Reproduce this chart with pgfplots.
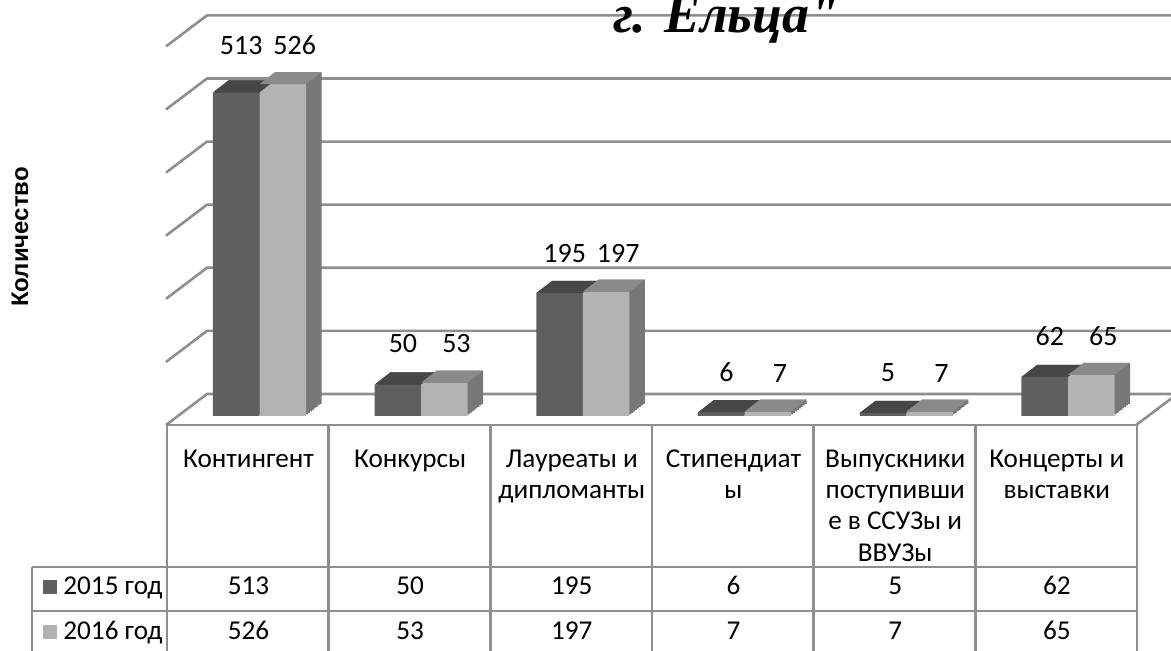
\documentclass[border=0pt]{standalone}
\usepackage{pgfplots}
\usepackage{pgfplotstable}
\pgfplotsset{compat=1.18}
\usepackage{fontspec}
\setmainfont{Carlito}
\newfontfamily\titlefont{Liberation Serif}
\newfontfamily\ylabfont{Liberation Sans}

\definecolor{fr15}{HTML}{5F5F5F}
\definecolor{tp15}{HTML}{474747}
\definecolor{sd15}{HTML}{3E3E3E}
\definecolor{fr16}{HTML}{B3B3B3}
\definecolor{tp16}{HTML}{8A8A8A}
\definecolor{sd16}{HTML}{777777}
\definecolor{gridc}{HTML}{8E8E8E}

\pgfdeclareplotmark{topface}{%
  \pgfpathmoveto{\pgfpoint{-11.625pt}{0pt}}%
  \pgfpathlineto{\pgfpoint{11.625pt}{0pt}}%
  \pgfpathlineto{\pgfpoint{19.375pt}{6pt}}%
  \pgfpathlineto{\pgfpoint{-3.875pt}{6pt}}%
  \pgfpathclose\pgfusepath{fill}}

\pgfplotstableread{
cat v15 v16
0 513 526
1 50 53
2 195 197
3 6 7
4 5 7
5 62 65
}\data

\begin{document}
\begin{tikzpicture}
\path[use as bounding box] (0,0) rectangle (585.5pt,325.5pt);
\begin{axis}[
  hide axis, clip=false, scale only axis,
  width=485.1pt, height=189.3pt,
  at={(89.325pt,117.5pt)}, anchor=south west,
  xmin=-0.5, xmax=5.5, ymin=0, ymax=600,
  /pgf/number format/assume math mode=true,
]
% back wall gridlines
\pgfplotsinvokeforeach{0,100,...,600}{
  \draw[gridc, line width=1.3pt, line join=round] ([shift={(-6.325pt,-4.5pt)}]axis cs:-0.5,#1) -- ([shift={(14.175pt,11pt)}]axis cs:-0.5,#1) -- ([shift={(20pt,11pt)}]axis cs:5.5,#1);
}
\draw[gridc, line width=1.3pt] ([shift={(-6.325pt,-4.5pt)}]axis cs:5.5,0) -- ([shift={(14.175pt,11pt)}]axis cs:5.5,0);

% 2015 series
\pgfplotsinvokeforeach{1,...,8}{
  \addplot[ybar, bar shift=0pt, bar width=0.2876, draw=none, fill=sd15, xshift=#1*0.96875pt, yshift=#1*0.75pt]
    table[x expr=\thisrow{cat}-0.1438, y=v15]{\data};
}
\addplot[ybar, bar shift=0pt, bar width=0.2876, draw=none, fill=fr15]
  table[x expr=\thisrow{cat}-0.1438, y=v15]{\data};
\addplot[only marks, mark=topface, mark options={fill=tp15, draw=none}]
  table[x expr=\thisrow{cat}-0.1438, y=v15]{\data};

% 2016 series
\pgfplotsinvokeforeach{1,...,8}{
  \addplot[ybar, bar shift=0pt, bar width=0.2876, draw=none, fill=sd16, xshift=#1*0.96875pt, yshift=#1*0.75pt]
    table[x expr=\thisrow{cat}+0.1438, y=v16]{\data};
}
\addplot[ybar, bar shift=0pt, bar width=0.2876, draw=none, fill=fr16]
  table[x expr=\thisrow{cat}+0.1438, y=v16]{\data};
\addplot[only marks, mark=topface, mark options={fill=tp16, draw=none}]
  table[x expr=\thisrow{cat}+0.1438, y=v16]{\data};

% data labels
\addplot[draw=none, mark=none, nodes near coords, point meta=\thisrow{v15},
  every node near coord/.append style={anchor=south, inner sep=0pt, yshift=14.5pt, xshift=2.5pt, text=black, font=\fontsize{14}{16}\selectfont}]
  table[x expr=\thisrow{cat}-0.1438, y=v16]{\data};
\addplot[draw=none, mark=none, nodes near coords, point meta=\thisrow{v16},
  every node near coord/.append style={anchor=south, inner sep=0pt, yshift=14.5pt, xshift=6pt, text=black, font=\fontsize{14}{16}\selectfont}]
  table[x expr=\thisrow{cat}+0.1438, y=v16]{\data};
\end{axis}

\begin{scope}[shift={(0pt,325.5pt)}, x=0.5pt, y=-0.5pt]
  % table lines
  \begin{scope}[gridc, line width=1.3pt]
    \draw (167,425) -- (1137,425);
    \foreach \i in {0,...,6} \draw ({167+161.67*\i},425) -- ({167+161.67*\i},660);
    \draw (32,567) -- (1137,567);
    \draw (32,611) -- (1137,611);
    \draw (32,655) -- (1137,655);
    \draw (32,567) -- (32,660);
  \end{scope}
  \begin{scope}[every node/.style={inner sep=0pt, anchor=base, font=\fontsize{13.6}{15}\selectfont}]
    % header
    \node at (248.5,468) {Контингент};
    \node at (410.2,468) {Конкурсы};
    \node at (571.8,468) {Лауреаты и};
    \node at (571.8,499) {дипломанты};
    \node at (733.5,468) {Стипендиат};
    \node at (733.5,499) {ы};
    \node at (895.2,468) {Выпускники};
    \node at (895.2,499) {поступивши};
    \node at (895.2,530) {е в ССУЗы и};
    \node at (895.2,562) {ВВУЗы};
    \node at (1056.8,468) {Концерты и};
    \node at (1056.8,499) {выставки};
    % rows
    \node at (248.5,595) {513}; \node at (410.2,595) {50}; \node at (571.8,595) {195};
    \node at (733.5,595) {6}; \node at (895.2,595) {5}; \node at (1056.8,595) {62};
    \node at (248.5,640) {526}; \node at (410.2,640) {53}; \node at (571.8,640) {197};
    \node at (733.5,640) {7}; \node at (895.2,640) {7}; \node at (1056.8,640) {65};
    \node[anchor=base west] at (63,595) {2015 год};
    \node[anchor=base west] at (63,640) {2016 год};
  \end{scope}
  \fill[fr15] (43,580) rectangle (57,594);
  \fill[fr16] (43,625) rectangle (57,639);
  % y label
  \node[rotate=90, font=\ylabfont\bfseries\fontsize{12}{14}\selectfont] at (20,237) {Количество};
  % title (cut at the top edge, as in the reference)
  \node[anchor=base west, inner sep=0pt, font=\titlefont\bfseries\itshape\fontsize{27}{31}\selectfont] at (613,33) {г. Ельца"};
\end{scope}
\end{tikzpicture}
\end{document}
